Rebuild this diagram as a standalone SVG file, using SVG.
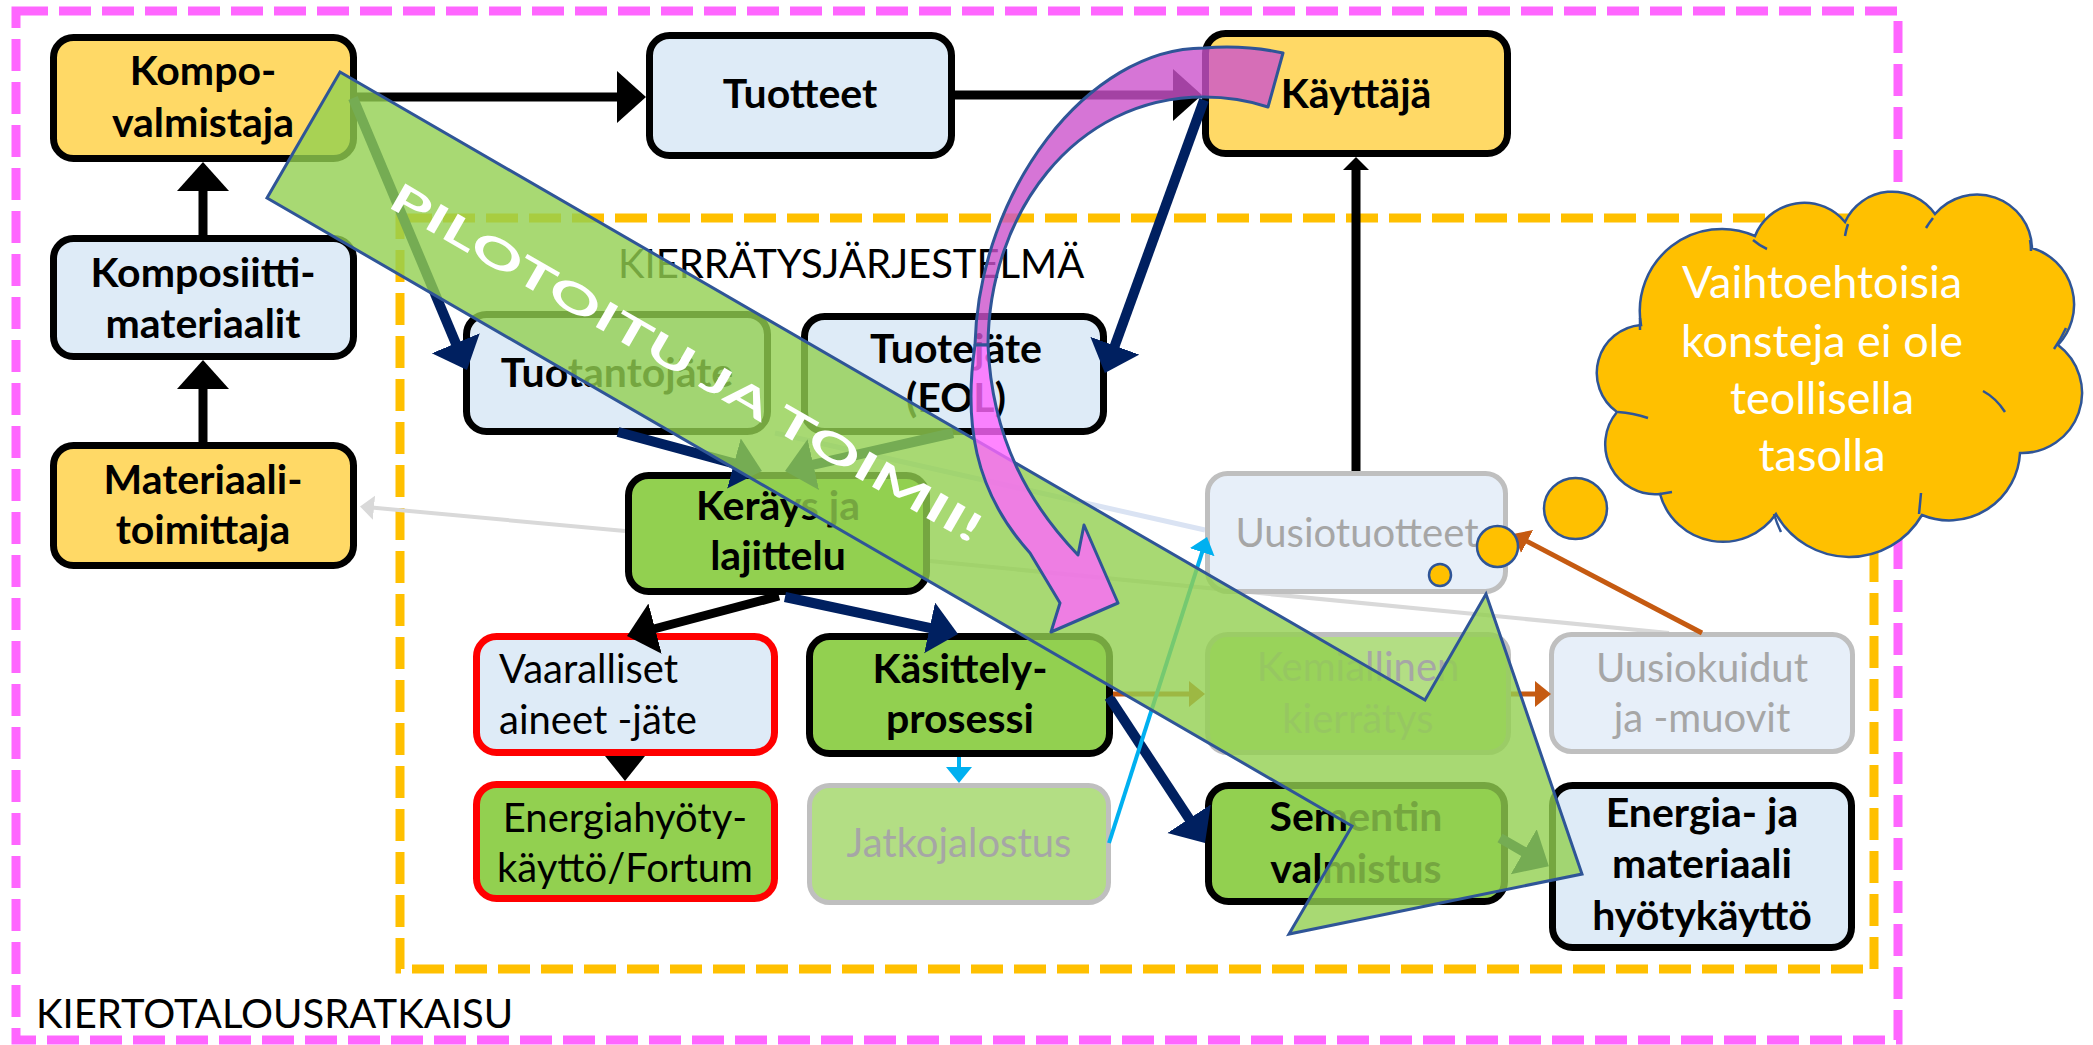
<svg xmlns="http://www.w3.org/2000/svg" width="2093" height="1045" viewBox="0 0 2093 1045">
  <style>
    .box { stroke-width: 7; }
    .y { fill: #FFD966; stroke: #000; }
    .b { fill: #DEEBF7; stroke: #000; }
    .g { fill: #92D050; stroke: #000; }
    .rb { fill: #DEEBF7; stroke: #FF0000; }
    .rg { fill: #92D050; stroke: #FF0000; }
    .fg { fill: #B3DE84; stroke: #BFBFBF; stroke-width: 5; }
    .fb { fill: #E7EFF9; stroke: #BFBFBF; stroke-width: 5; }
    text { font-family: Lato, "Open Sans", "Liberation Sans", sans-serif; font-size: 40px; fill: #000; }
    .bd { font-weight: bold; font-size: 41px; }
    .c { text-anchor: middle; }
    .gt { fill: #A6A6A6; }
    .frame { fill: none; stroke-width: 9; stroke-dasharray: 32 11; }
    .navy { stroke: #002060; stroke-width: 10; fill: none; }
    .blk { stroke: #000; stroke-width: 9; fill: none; }
    .org { stroke: #C55A11; stroke-width: 5; fill: none; }
    .cyan { stroke: #00B0F0; stroke-width: 4; fill: none; }
    .gray { stroke: #D9D9D9; stroke-width: 4; fill: none; }
    .cloudtxt { font-size: 45px; fill: #FFFFFF; }
  </style>
  <defs>
    <marker id="ahBlack" markerUnits="userSpaceOnUse" markerWidth="30" markerHeight="54" refX="19" refY="26" orient="auto">
      <path d="M0,0 L29,26 L0,52 Z" fill="#000"/>
    </marker>
    <marker id="ahNavy" markerUnits="userSpaceOnUse" markerWidth="30" markerHeight="54" refX="19" refY="26" orient="auto">
      <path d="M0,0 L29,26 L0,52 Z" fill="#002060"/>
    </marker>
    <marker id="ahOrange" markerUnits="userSpaceOnUse" markerWidth="17" markerHeight="28" refX="10" refY="13" orient="auto">
      <path d="M0,0 L16,13 L0,26 Z" fill="#C55A11"/>
    </marker>
    <marker id="ahCyan" markerUnits="userSpaceOnUse" markerWidth="17" markerHeight="28" refX="10" refY="13" orient="auto">
      <path d="M0,0 L16,13 L0,26 Z" fill="#00B0F0"/>
    </marker>
    <marker id="ahGray" markerUnits="userSpaceOnUse" markerWidth="15" markerHeight="25" refX="8" refY="12" orient="auto">
      <path d="M0,0 L14,12 L0,24 Z" fill="#D9D9D9"/>
    </marker>
    <marker id="ahThin" markerUnits="userSpaceOnUse" markerWidth="14" markerHeight="28" refX="7" refY="13" orient="auto">
      <path d="M0,0 L13,13 L0,26 Z" fill="#000"/>
    </marker>
  </defs>

  <!-- outer and inner system boundaries -->
  <g id="kiertotalousratkaisu">
    <rect class="frame" x="16" y="11" width="1882" height="1029" stroke="#FF66FF"/>
    <text x="36" y="1028" font-size="42">KIERTOTALOUSRATKAISU</text>
  </g>
  <g id="kierratysjarjestelma">
    <rect class="frame" x="400" y="218" width="1474" height="751" stroke="#FFC000"/>
    <text x="618" y="278" font-size="42">KIERRÄTYSJÄRJESTELMÄ</text>
  </g>

  <!-- return lines drawn behind the boxes -->
  <g id="connectors-back">
    <path class="gray" d="M1669,633 L930,561"/>
    <path class="gray" d="M625,531 L366,507" marker-end="url(#ahGray)"/>
    <path d="M775,433 L1205,530" stroke="#DAE3F3" stroke-width="5" fill="none"/>
  </g>

  <!-- nodes -->
  <g id="kompo-valmistaja">
    <rect class="box y" x="53.5" y="37.5" width="300" height="121" rx="20"/>
    <text class="bd c" x="203" y="85">Kompo-</text>
    <text class="bd c" x="203" y="137">valmistaja</text>
  </g>
  <g id="tuotteet">
    <rect class="box b" x="649.5" y="35.5" width="302" height="120" rx="20"/>
    <text class="bd c" x="800" y="108">Tuotteet</text>
  </g>
  <g id="kayttaja">
    <rect class="box y" x="1205.5" y="33.5" width="302" height="120" rx="20"/>
    <text class="bd c" x="1356" y="108">Käyttäjä</text>
  </g>
  <g id="komposiittimateriaalit">
    <rect class="box b" x="53.5" y="238.5" width="300" height="118" rx="20"/>
    <text class="bd c" x="203" y="287">Komposiitti-</text>
    <text class="bd c" x="203" y="338">materiaalit</text>
  </g>
  <g id="materiaalitoimittaja">
    <rect class="box y" x="53.5" y="445.5" width="300" height="120" rx="20"/>
    <text class="bd c" x="203" y="494">Materiaali-</text>
    <text class="bd c" x="203" y="544">toimittaja</text>
  </g>
  <g id="tuotantojate">
    <rect class="box b" x="466.5" y="314.5" width="301" height="117" rx="20"/>
    <text class="bd c" x="617" y="387">Tuotantojäte</text>
  </g>
  <g id="tuotejate">
    <rect class="box b" x="804.5" y="316.5" width="299" height="115" rx="20"/>
    <text class="bd c" x="956" y="363">Tuotejäte</text>
    <text class="bd c" x="956" y="412">(EOL)</text>
  </g>
  <g id="keraysjalajittelu">
    <rect class="box g" x="628.5" y="475.5" width="298" height="116" rx="20"/>
    <text class="bd c" x="778" y="520">Keräys ja</text>
    <text class="bd c" x="778" y="570">lajittelu</text>
  </g>
  <g id="vaaralliset">
    <rect class="box rb" x="476.5" y="636.5" width="298" height="116" rx="20"/>
    <text x="499" y="683">Vaaralliset</text>
    <text x="499" y="734">aineet -jäte</text>
  </g>
  <g id="energiahyotykaytto">
    <rect class="box rg" x="476.5" y="784.5" width="298" height="114" rx="20"/>
    <text class="c" x="625" y="832">Energiahyöty-</text>
    <text class="c" x="625" y="882">käyttö/Fortum</text>
  </g>
  <g id="kasittelyprosessi">
    <rect class="box g" x="809.5" y="636.5" width="300" height="117" rx="20"/>
    <text class="bd c" x="960" y="683">Käsittely-</text>
    <text class="bd c" x="960" y="733">prosessi</text>
  </g>
  <g id="jatkojalostus">
    <rect class="fg" x="809.5" y="785.5" width="299" height="117" rx="20"/>
    <text class="c gt" x="959" y="857">Jatkojalostus</text>
  </g>
  <g id="kemiallinenkierratys">
    <rect class="fg" x="1207.5" y="634.5" width="301" height="118" rx="20"/>
    <text class="c gt" x="1358" y="681">Kemiallinen</text>
    <text class="c gt" x="1358" y="733">kierrätys</text>
  </g>
  <g id="uusiotuotteet">
    <rect class="fb" x="1207.5" y="473.5" width="298" height="118" rx="20"/>
    <text class="c gt" x="1357" y="547">Uusiotuotteet</text>
  </g>
  <g id="uusiokuidut">
    <rect class="fb" x="1551.5" y="634.5" width="301" height="117" rx="20"/>
    <text class="c gt" x="1702" y="682">Uusiokuidut</text>
    <text class="c gt" x="1702" y="732">ja -muovit</text>
  </g>
  <g id="sementinvalmistus">
    <rect class="box g" x="1208.5" y="785.5" width="296" height="116" rx="20"/>
    <text class="bd c" x="1356" y="831">Sementin</text>
    <text class="bd c" x="1356" y="883">valmistus</text>
  </g>
  <g id="energiajamateriaali">
    <rect class="box b" x="1552.5" y="785.5" width="299" height="162" rx="20"/>
    <text class="bd c" x="1702" y="827">Energia- ja</text>
    <text class="bd c" x="1702" y="878">materiaali</text>
    <text class="bd c" x="1702" y="930">hyötykäyttö</text>
  </g>

  <!-- flows -->
  <g id="connectors">
    <path class="blk" d="M357,97 L636,97" marker-end="url(#ahBlack)"/>
    <path class="blk" d="M955,95 L1192,95" marker-end="url(#ahBlack)"/>
    <path class="blk" stroke-width="10" d="M203,235 L203,172" marker-end="url(#ahBlack)"/>
    <path class="blk" stroke-width="10" d="M203,442 L203,370" marker-end="url(#ahBlack)"/>
    <path class="navy" d="M1204,100 L1108.3,363.6" marker-end="url(#ahNavy)"/>
    <path class="navy" d="M353,98 L463.1,360.8" marker-end="url(#ahNavy)"/>
    <path class="navy" d="M618,432 L752.3,468.4" marker-end="url(#ahNavy)"/>
    <path class="navy" d="M953,433 L794.8,468.8" marker-end="url(#ahNavy)"/>
    <path class="blk" stroke-width="8" d="M779,596 L636.7,633.5" marker-end="url(#ahBlack)"/>
    <path class="navy" d="M785,597 L948.2,631.9" marker-end="url(#ahNavy)"/>
    <path class="navy" d="M1109,697 L1199.5,834.6" marker-end="url(#ahNavy)"/>
    <path class="navy" d="M1500,838 L1540.2,861.2" marker-end="url(#ahNavy)"/>
    <path class="org" d="M1113,694 L1199,694" marker-end="url(#ahOrange)"/>
    <path class="org" d="M1511,694 L1545,694" marker-end="url(#ahOrange)"/>
    <path class="org" d="M1702,633 L1518.3,536.8" marker-end="url(#ahOrange)"/>
    <path class="cyan" d="M1109,843 L1205.2,542.7" marker-end="url(#ahCyan)"/>
    <path class="cyan" stroke-width="5" d="M959,757 L959,777" marker-end="url(#ahCyan)"/>
    <path class="blk" stroke-width="4" d="M1356,471 L1356,163" marker-end="url(#ahThin)"/>
    <path d="M605,756 L645,756 L625,781 Z" fill="#000"/>
  </g>

  <!-- pilot overlay arrow -->
  <g id="pilotoitu">
    <path d="M340,72 L1425,700 L1486,594 L1582,874 L1289,934 L1352,826 L267,198 Z" fill="#92D050" fill-opacity="0.8" stroke="#2F5597" stroke-width="3" stroke-linejoin="miter"/>
    <text transform="translate(690,356) rotate(30)" x="0" y="22" class="c" font-weight="bold" font-size="63" style="fill:#FFFFFF" textLength="676" lengthAdjust="spacingAndGlyphs">PILOTOITU JA TOIMII!</text>
  </g>

  <!-- curved feedback arrow -->
  <g id="kaarinuoli" stroke="#2F5597" stroke-width="3" stroke-linejoin="round">
    <path d="M1283,53 C1260,48 1230,46 1204,48 C1088,48 979,190 975,345 L988,345 C989,215 1073,97 1204,97 C1230,97 1250,101 1268,107 Z" fill="#CC52CC" fill-opacity="0.8"/>
    <path d="M975,345 C964,420 973,490 1030,553 L1060,603 L1051,632 L1118,603 L1084,525 L1078,555 C1030,505 992,440 988,345 Z" fill="#FF66FF" fill-opacity="0.8"/>
  </g>

  <!-- thought cloud -->
  <g id="pilvi">
    <ellipse cx="1440" cy="575" rx="11" ry="11" fill="#FFC000" stroke="#2F5597" stroke-width="2.5"/>
    <ellipse cx="1497.5" cy="546.5" rx="20.5" ry="20.5" fill="#FFC000" stroke="#2F5597" stroke-width="2.5"/>
    <ellipse cx="1575.5" cy="508.5" rx="31.5" ry="30.5" fill="#FFC000" stroke="#2F5597" stroke-width="2.5"/>
    <path d="M1641,325 A82,82 0 0 1 1755,236 A53,53 0 0 1 1845,222 A52,52 0 0 1 1935,214 A55,55 0 0 1 2032,248 A59,59 0 0 1 2058,345 A60,60 0 0 1 2020,453 A71,71 0 0 1 1922,515 A84,84 0 0 1 1776,514 A65,65 0 0 1 1660,494 A50,50 0 0 1 1617,412 A48,48 0 0 1 1641,325 Z" fill="#FFC000" stroke="#2F5597" stroke-width="2.5"/>
    <path d="M1753,240 Q1760,246 1767,249 M1848,224 Q1846,230 1845,236 M1933,218 Q1929,223 1926,228 M2030,240 Q2031,245 2031,251 M2066,328 Q2061,339 2054,349 M1983,391 Q1996,398 2005,412 M1921,493 Q1920,504 1919,514 M1774,514 Q1777,524 1781,532 M1660,494 Q1666,493 1672,492 M1618,412 Q1633,413 1648,418 M1640,318 Q1640,323 1640,330" fill="none" stroke="#2F5597" stroke-width="2.5"/>
    <text class="c cloudtxt" x="1822" y="298">Vaihtoehtoisia</text>
    <text class="c cloudtxt" x="1822" y="357">konsteja ei ole</text>
    <text class="c cloudtxt" x="1822" y="414">teollisella</text>
    <text class="c cloudtxt" x="1822" y="471">tasolla</text>
  </g>
</svg>
